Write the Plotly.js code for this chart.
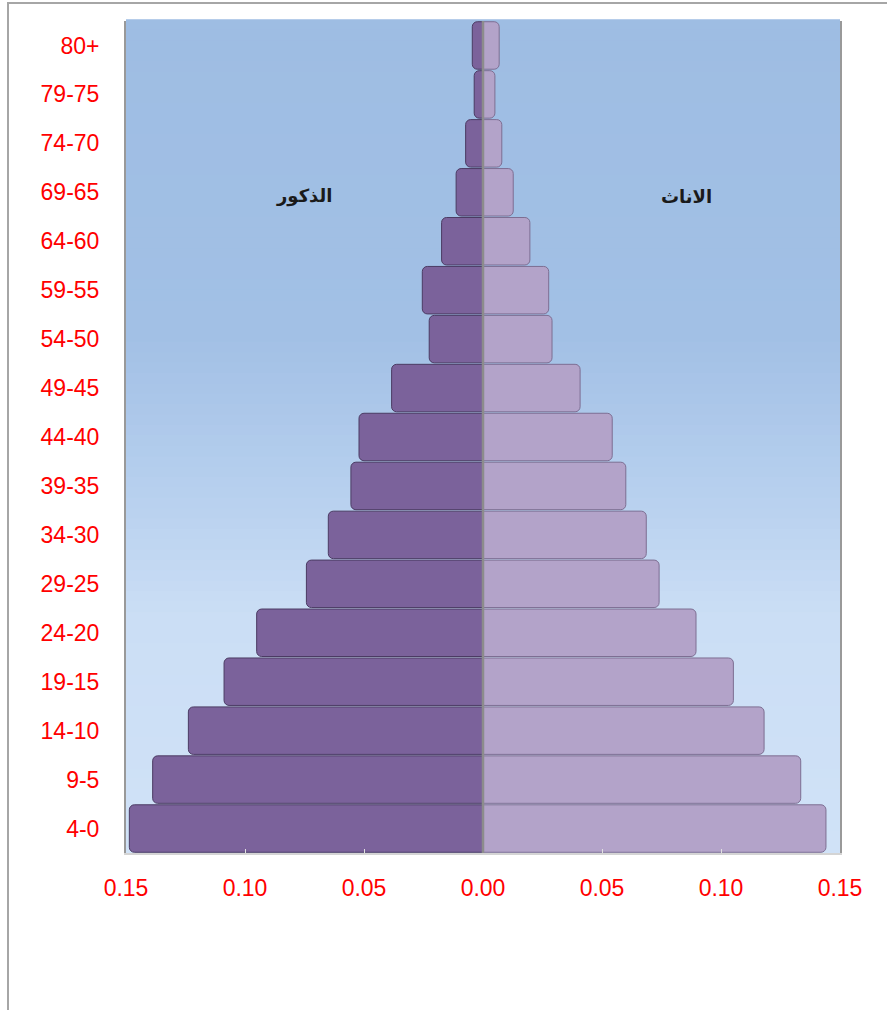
<!DOCTYPE html>
<html>
<head>
<meta charset="utf-8">
<script src="https://cdn.plot.ly/plotly-3.0.1.min.js"></script>
<style>
  html, body { margin: 0; padding: 0; background: #fff; }
  #wrap { position: relative; width: 887px; height: 1010px; }
  #chart { width: 887px; height: 1010px; }
  #frame { position: absolute; left: 7px; top: 2px; right: -2px; bottom: -2px;
           border-left: 2px solid #a6a6a6; border-top: 2px solid #a6a6a6; pointer-events: none; }
</style>
</head>
<body>
<div id="wrap">
  <div id="chart"></div>
  <div id="frame"></div>
</div>
<script>
// Age groups (bottom to top), as displayed
const ageGroups = ["4-0","9-5","14-10","19-15","24-20","29-25","34-30","39-35","44-40","49-45","54-50","59-55","64-60","69-65","74-70","79-75","80+"];
// Share of population
const males   = [0.1486,0.1388,0.1238,0.1088,0.0951,0.0742,0.0650,0.0555,0.0521,0.0384,0.0226,0.0255,0.0174,0.0113,0.0073,0.0037,0.0045];
const females = [0.1441,0.1335,0.1181,0.1052,0.0895,0.0740,0.0686,0.0600,0.0543,0.0408,0.0290,0.0276,0.0197,0.0127,0.0079,0.0050,0.0068];
const xTickVals = [-0.15,-0.10,-0.05,0,0.05,0.10,0.15];
const xTickText = ["0.15","0.10","0.05","0.00","0.05","0.10","0.15"];
const maleLabel = "الذكور";
const femaleLabel = "الاناث";

// background gradient (style only)
const stops = [[0,[158,189,227]],[0.38,[162,192,229]],[0.56,[182,207,238]],[0.72,[203,222,245]],[1,[208,226,247]]];
function colAt(t){
  for (let i=0;i<stops.length-1;i++){
    const [a,ca]=stops[i],[b,cb]=stops[i+1];
    if (t>=a && t<=b){ const f=(t-a)/(b-a);
      return 'rgb('+ca.map((v,k)=>Math.round(v+(cb[k]-v)*f)).join(',')+')'; }
  }
  return 'rgb(208,226,247)';
}
const shapes = [];
const N = 80;
for (let i=0;i<N;i++){
  const t0=i/N, t1=(i+1)/N;
  shapes.push({type:'rect', xref:'paper', yref:'paper', x0:0, x1:1, y0:1-t1, y1:1-t0+0.002,
    fillcolor: colAt((t0+t1)/2), line:{width:0}, layer:'below'});
}
shapes.push({type:'line', xref:'x', yref:'paper', x0:0, x1:0, y0:0, y1:1, line:{color:'#8c8c8c', width:2.5}, layer:'above'});

const traces = [
  {type:'bar', orientation:'h', y: ageGroups, x: males.map(v=>-v), name:'male',
   marker:{color:'#7b629b', line:{color:'#4b3b63', width:1}, cornerradius:5}, hoverinfo:'skip'},
  {type:'bar', orientation:'h', y: ageGroups, x: females, name:'female',
   marker:{color:'#b3a3c9', line:{color:'#7d6e92', width:1}, cornerradius:5}, hoverinfo:'skip'}
];

const layout = {
  width: 887, height: 1010,
  margin: {l:126, r:47, t:21, b:157},
  paper_bgcolor: 'rgba(0,0,0,0)',
  plot_bgcolor: 'rgb(208,226,247)',
  barmode: 'relative',
  bargap: 0.03,
  showlegend: false,
  font: {family: 'Liberation Sans, Arial, sans-serif'},
  xaxis: {
    range: [-0.15, 0.15], tickvals: xTickVals, ticktext: xTickText,
    tickfont: {color: '#ff0000', size: 23}, showgrid: false, zeroline: false,
    showline: true, linecolor: '#d4d4d4', linewidth: 2,
    ticks: 'inside', ticklen: 4, tickcolor: '#e0e0e0', ticklabelstandoff: 13,
    fixedrange: true
  },
  yaxis: {
    type: 'category', categoryorder: 'array', categoryarray: ageGroups,
    tickfont: {color: '#ff0000', size: 23}, showgrid: false, zeroline: false,
    showline: true, mirror: true, linecolor: '#999999', linewidth: 2,
    ticks: '', ticklabelstandoff: 20, fixedrange: true
  },
  shapes: shapes,
  annotations: [
    {x: -0.0752, y: '69-65', xref:'x', yref:'y', text: '<b>'+maleLabel+'</b>', showarrow:false,
     yshift: -4, font:{family:'DejaVu Sans, sans-serif', size:18, color:'#1a1a1a'}},
    {x: 0.0853, y: '69-65', xref:'x', yref:'y', text: '<b>'+femaleLabel+'</b>', showarrow:false,
     yshift: -4, font:{family:'DejaVu Sans, sans-serif', size:18, color:'#1a1a1a'}}
  ]
};
Plotly.newPlot('chart', traces, layout, {displayModeBar:false, staticPlot:true});
</script>
</body>
</html>
